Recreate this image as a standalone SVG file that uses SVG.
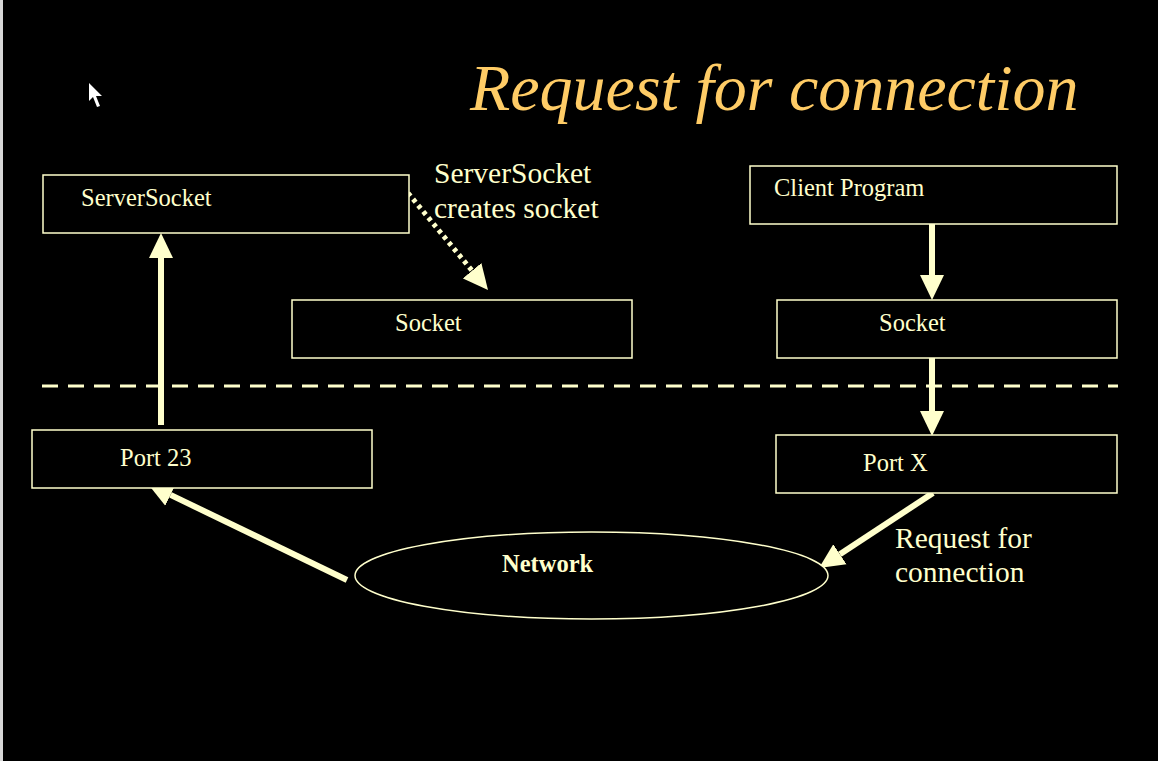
<svg xmlns="http://www.w3.org/2000/svg" width="1158" height="761" viewBox="0 0 1158 761">
  <defs>
    <style>
      .box { fill: #000000; stroke: #FFFFCC; stroke-width: 1.5; }
      text { font-family: "Liberation Serif", "Times New Roman", "DejaVu Serif", serif; fill: #FFFFCC; }
      .lbl { font-size: 24.5px; }
      .note { font-size: 29.5px; }
      .title { font-style: italic; font-size: 66px; fill: #FFCC66; }
      .arrow { stroke: #FFFFCC; stroke-width: 6; fill: none; marker-end: url(#head); }
      .dotted { stroke: #FFFFCC; stroke-width: 5; stroke-dasharray: 4 4; fill: none; marker-end: url(#head); }
      .divider { stroke: #FFFFCC; stroke-width: 3; stroke-dasharray: 16 10; fill: none; }
    </style>
    <marker id="head" markerUnits="userSpaceOnUse" markerWidth="28" markerHeight="26" viewBox="0 -13 28 26" refX="0" refY="0" orient="auto">
      <path d="M0,-12 L25,0 L0,12 Z" fill="#FFFFCC"/>
    </marker>
  </defs>

  <rect x="0" y="0" width="1158" height="761" fill="#000000"/>
  <rect x="0" y="0" width="3" height="761" fill="#d8d8d8"/>

  <!-- pointer -->
  <polygon points="89,83 89,101 93,97 97,107 100,106 96,96 102,96" fill="#ffffff"/>

  <text class="title" x="470" y="110">Request for connection</text>

  <g id="connectors">
    <line class="divider" x1="42" y1="386" x2="1118" y2="386"/>
    <line class="arrow" x1="161" y1="425" x2="161" y2="258"/>
    <line class="dotted" x1="408" y1="193" x2="472.1" y2="270.7"/>
    <line class="arrow" x1="932" y1="224" x2="932" y2="275"/>
    <line class="arrow" x1="932" y1="358" x2="932" y2="411"/>
    <line class="arrow" x1="933" y1="493" x2="839.9" y2="554.3"/>
    <line class="arrow" x1="347" y1="580" x2="170.5" y2="494.9"/>
  </g>

  <g id="server-socket">
    <rect class="box" x="43" y="175" width="366" height="58"/>
    <text class="lbl" x="81" y="206">ServerSocket</text>
  </g>

  <g id="server-note">
    <text class="note" x="434" y="183">ServerSocket</text>
    <text class="note" x="434" y="218">creates socket</text>
  </g>

  <g id="socket-server">
    <rect class="box" x="292" y="300" width="340" height="58"/>
    <text class="lbl" x="395" y="331">Socket</text>
  </g>

  <g id="client-program">
    <rect class="box" x="750" y="166" width="367" height="58"/>
    <text class="lbl" x="774" y="196">Client Program</text>
  </g>

  <g id="socket-client">
    <rect class="box" x="777" y="300" width="340" height="58"/>
    <text class="lbl" x="879" y="331">Socket</text>
  </g>

  <g id="port-23">
    <rect class="box" x="32" y="430" width="340" height="58"/>
    <text class="lbl" x="120" y="466">Port 23</text>
  </g>

  <g id="port-x">
    <rect class="box" x="776" y="435" width="341" height="58"/>
    <text class="lbl" x="863" y="471">Port X</text>
  </g>

  <g id="network">
    <ellipse class="box" cx="591.5" cy="575.5" rx="236.5" ry="43.5"/>
    <text class="lbl" x="502" y="572" font-weight="bold">Network</text>
  </g>

  <g id="request-note">
    <text class="note" x="895" y="548">Request for</text>
    <text class="note" x="895" y="582">connection</text>
  </g>
</svg>
